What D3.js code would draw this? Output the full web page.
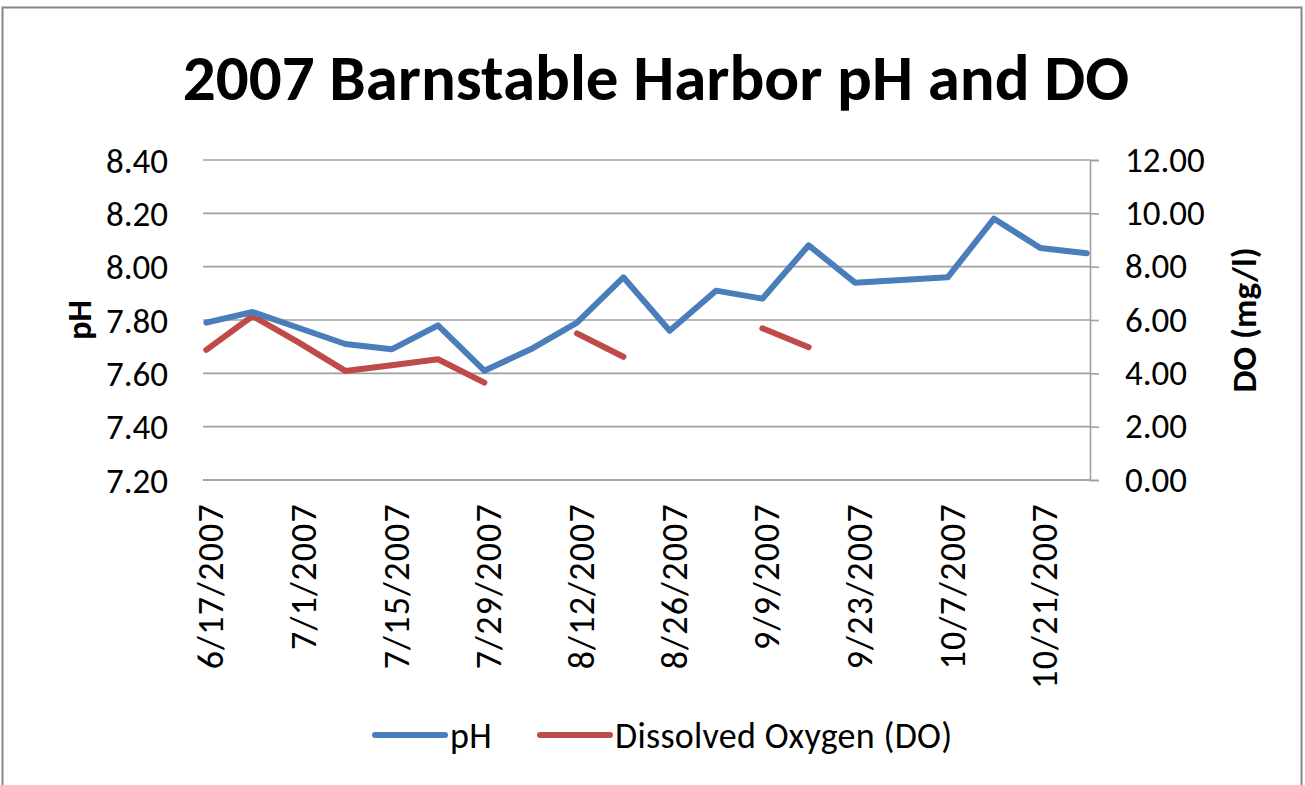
<!DOCTYPE html>
<html><head><meta charset="utf-8">
<script src="https://cdn.jsdelivr.net/npm/d3@7"></script>
<style>
body{margin:0;background:#fff}
svg{display:block}
text{font-family:Calibri,Carlito,Lato,sans-serif;fill:#000}
</style>
</head><body>
<svg id="c" width="1305" height="785"></svg>
<script>
const dates = ["6/17/2007","6/24/2007","7/1/2007","7/8/2007","7/15/2007","7/22/2007","7/29/2007",
  "8/5/2007","8/12/2007","8/19/2007","8/26/2007","9/2/2007","9/9/2007","9/16/2007","9/23/2007",
  "9/30/2007","10/7/2007","10/14/2007","10/21/2007","10/28/2007"];
const phValues = [7.79,7.83,7.77,7.71,7.69,7.78,7.61,7.69,7.79,7.96,7.76,7.91,7.88,8.08,7.94,7.95,7.96,8.18,8.07,8.05];
const doValues = [4.88,6.15,5.15,4.09,4.30,4.53,3.65,null,5.50,4.62,null,null,5.69,4.98,null,null,null,null,null,null];
const xTickLabels = ["6/17/2007","7/1/2007","7/15/2007","7/29/2007","8/12/2007","8/26/2007","9/9/2007","9/23/2007","10/7/2007","10/21/2007"];
const phTicks = [7.20,7.40,7.60,7.80,8.00,8.20,8.40];
const doTicks = [0,2,4,6,8,10,12];
const seriesNames = ["pH","Dissolved Oxygen (DO)"];
const colors = ["#4A7EBB","#BE4B48"];

const parse = d3.utcParse("%m/%d/%Y");
const DAY = 864e5;
const svg = d3.select("#c");
const L = 203, R = 1090, T = 160, B = 480;
const FONT = "Calibri,Carlito,Lato,sans-serif";

svg.append("rect").attr("x",2.5).attr("y",7.5).attr("width",1299).attr("height",800)
  .attr("fill","#fff").attr("stroke","#868686").attr("stroke-width",2);

const d0 = parse(dates[0]), d1 = parse(dates[dates.length-1]);
const x = d3.scaleUtc().domain([new Date(+d0 - DAY/2), new Date(+d1 + DAY/2)]).range([L, R]);
const yPh = d3.scaleLinear().domain([7.2, 8.4]).range([B, T]);
const yDo = d3.scaleLinear().domain([0, 12]).range([B, T]);

// gridlines
svg.append("g").selectAll("line").data(phTicks).join("line")
  .attr("x1", L).attr("x2", R).attr("y1", d => yPh(d)).attr("y2", d => yPh(d))
  .attr("stroke", "#a0a0a0").attr("stroke-width", 1.6);

// left axis labels
svg.append("g").selectAll("text").data(phTicks).join("text")
  .attr("x", 168).attr("y", d => yPh(d)).attr("dy", "0.36em")
  .attr("text-anchor", "end").attr("font-size", 35).text(d => d3.format(".2f")(d));

// right axis
const rAxis = svg.append("g").attr("transform", `translate(${R},0)`)
  .call(d3.axisRight(yDo).tickValues(doTicks).tickSize(9).tickPadding(26).tickFormat(d3.format(".2f")));
rAxis.select(".domain").attr("stroke", "#a0a0a0").attr("stroke-width", 1.6);
rAxis.selectAll(".tick line").attr("stroke", "#a0a0a0").attr("stroke-width", 1.6);
rAxis.selectAll(".tick text").attr("font-size", 35).attr("font-family", FONT).attr("fill","#000");

// x axis line
svg.append("line").attr("x1", L).attr("x2", R).attr("y1", B).attr("y2", B)
  .attr("stroke", "#a0a0a0").attr("stroke-width", 1.6);

// x tick labels
svg.append("g").selectAll("text").data(xTickLabels).join("text")
  .attr("transform", d => `translate(${x(parse(d)) + 4},503) rotate(-90)`)
  .attr("dy", "0.36em").attr("text-anchor", "end").attr("font-size", 36)
  .attr("letter-spacing", 1.2).text(d => d);

// lines
const pts = dates.map((d, i) => ({t: parse(d), ph: phValues[i], o: doValues[i]}));
const linePh = d3.line().x(d => x(d.t)).y(d => yPh(d.ph));
const lineDo = d3.line().defined(d => d.o != null).x(d => x(d.t)).y(d => yDo(d.o));
svg.append("path").datum(pts).attr("d", lineDo).attr("fill", "none").attr("stroke", colors[1])
  .attr("stroke-width", 6).attr("stroke-linejoin", "round").attr("stroke-linecap", "round");
svg.append("path").datum(pts).attr("d", linePh).attr("fill", "none").attr("stroke", colors[0])
  .attr("stroke-width", 6).attr("stroke-linejoin", "round").attr("stroke-linecap", "round");

// title
svg.append("text").attr("x", 656).attr("y", 100).attr("text-anchor", "middle")
  .attr("font-size", 65).attr("font-weight", "bold").text("2007 Barnstable Harbor pH and DO");

// axis titles
svg.append("text").attr("transform", "translate(79,320) rotate(-90)").attr("dy", "0.36em")
  .attr("text-anchor", "middle").attr("font-size", 34).attr("font-weight", "bold").text("pH");
svg.append("text").attr("transform", "translate(1243,320) rotate(-90)").attr("dy", "0.36em")
  .attr("text-anchor", "middle").attr("font-size", 35).attr("font-weight", "bold").text("DO (mg/l)");

// legend
const legX = [375, 540];
const lg = svg.append("g");
seriesNames.forEach((n, i) => {
  lg.append("line").attr("x1", legX[i]).attr("x2", legX[i] + 70).attr("y1", 735).attr("y2", 735)
    .attr("stroke", colors[i]).attr("stroke-width", 6).attr("stroke-linecap", "round");
  lg.append("text").attr("x", legX[i] + 75).attr("y", 735).attr("dy", "0.36em")
    .attr("font-size", 36).attr("letter-spacing", 0.3).text(n);
});
</script>
</body></html>
